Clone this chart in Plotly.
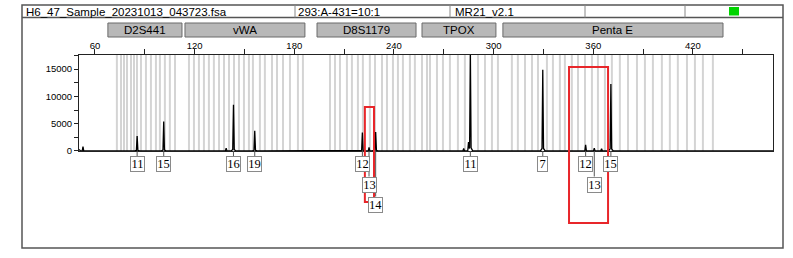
import plotly.graph_objects as go

# ---------------- data ----------------
header_texts = ["H6_47_Sample_20231013_043723.fsa", "293:A-431=10:1", "MR21_v2.1"]

loci = ["D2S441", "vWA", "D8S1179", "TPOX", "Penta E"]
locus_start = [67.8, 114.2, 193.7, 256.9, 305.6]
locus_end = [112.4, 186.4, 253.3, 301.4, 438.1]

# allele bin positions (bp)
bins = [73.2, 75.7, 77.5, 79.3, 81.7, 83.5, 85.3, 87.7, 90.7, 93.7, 96.7, 99.1, 102.1, 105.1, 108.2,
        116.6, 119.6, 122.6, 125.6, 128.6, 131.6, 134.7, 137.7, 140.7, 143.7, 146.7, 149.7, 152.7,
        155.1, 159.3, 162.3, 166.6, 169.6, 173.2, 177.4, 182.2, 185.2,
        201.5, 204.5, 207.5, 211.7, 214.7, 218.3, 221.3, 225.5, 228.6, 232.8, 235.8, 239.4, 242.4,
        245.4, 249.6, 252.6,
        256.9, 259.9, 261.7, 265.9, 269.5, 273.7, 278.5, 282.7, 290.6, 294.8, 299.0, 302.6,
        311.0, 314.6, 318.9, 323.1, 326.7, 332.1, 335.7, 339.9, 342.9, 347.1, 350.8, 355.0, 359.2,
        362.8, 367.0, 371.2, 376.0, 380.9, 386.3, 391.1, 395.9, 401.3, 406.1, 410.9, 416.4, 421.2,
        426.0, 432.0]

# trace start and peaks (bp, RFU)
trace_start_bp = 50.4
trace_start_rfu = 250
peak_bp = [52.8, 85.4, 101.4, 139.0, 143.4, 156.2, 221.0, 225.0, 229.0, 282.0, 284.9, 286.0,
           329.6, 355.4, 360.6, 365.0, 370.6]
peak_rfu = [800, 2750, 5400, 500, 8450, 3700, 3360, 650, 3450, 450, 1600, 18500,
            14900, 1100, 500, 400, 12260]

allele_names = ["11", "15", "16", "19", "12", "13", "14", "11", "7", "12", "13", "15"]
allele_bp = [85.4, 101.4, 143.4, 156.2, 221.0, 225.0, 229.0, 286.0, 329.6, 355.4, 360.6, 370.6]
allele_row = [1, 1, 1, 1, 1, 2, 3, 1, 1, 1, 2, 1]

# red highlight boxes (bp ranges)
highlight_bp = [(222.5, 228.0), (345.4, 368.9)]

x_ticks = [60, 120, 180, 240, 300, 360, 420]
y_ticks = [0, 5000, 10000, 15000]
y_tick_text = ["0", "5000", "10000", "15000"]

# ---------------- layout helpers ----------------
W, H = 793, 258
L, R, T, B = 79, 20, 55, 107
PW = W - L - R
PH = H - T - B


def px(X):
    return (X - L) / PW


def py(Y):
    return (T + PH - Y) / PH


# build polyline from peaks
CORE, FOOT, FOOTH = 0.45, 1.4, 0.03


def kernel(x, p, h):
    d = abs(x - p)
    if d <= CORE:
        return h * (1 - (d / CORE) * (1 - FOOTH))
    if d <= FOOT:
        return h * FOOTH * (1 - (d - CORE) / (FOOT - CORE))
    return 0.0


xs = set()
for p in peak_bp:
    for off in (-FOOT, -CORE, 0.0, CORE, FOOT):
        xs.add(round(p + off, 4))
xs = sorted(v for v in xs if v > trace_start_bp)
tx = [trace_start_bp]
ty = [trace_start_rfu]
for x in xs:
    tx.append(x)
    ty.append(max(kernel(x, p, h) for p, h in zip(peak_bp, peak_rfu)))
tx.append(468.2)
ty.append(0)

fig = go.Figure()

# bin lines
bx, by = [], []
for b in bins:
    bx += [b, b, None]
    by += [-100, 17700, None]
fig.add_trace(go.Scatter(x=bx, y=by, mode="lines", line=dict(color="#d4d4d4", width=2),
                         hoverinfo="skip", showlegend=False))
fig.add_trace(go.Scatter(x=tx, y=ty, mode="lines", line=dict(color="black", width=1.3),
                         hoverinfo="skip", showlegend=False))

shapes = []
annos = []

# outer frame and header
frame_col = "#555555"
shapes.append(dict(type="rect", xref="paper", yref="paper", x0=px(22), x1=px(783), y0=py(248), y1=py(5),
                   line=dict(color=frame_col, width=1.5)))
shapes.append(dict(type="line", xref="paper", yref="paper", x0=px(22), x1=px(783), y0=py(17.5), y1=py(17.5),
                   line=dict(color=frame_col, width=1.5)))
for dx in (295, 450, 585, 685):
    shapes.append(dict(type="line", xref="paper", yref="paper", x0=px(dx), x1=px(dx), y0=py(17.5), y1=py(5),
                       line=dict(color="#888888", width=1)))
shapes.append(dict(type="rect", xref="paper", yref="paper", x0=px(729), x1=px(739), y0=py(15.5), y1=py(7),
                   fillcolor="#00d400", line=dict(width=0)))
for txt, hx in zip(header_texts, (24, 296, 453)):
    annos.append(dict(text=txt, xref="paper", yref="paper", x=px(hx), y=py(11.5), xanchor="left",
                      yanchor="middle", showarrow=False,
                      font=dict(family="Liberation Sans, Arial", size=11.5, color="black")))

# locus bars
for name, s, e in zip(loci, locus_start, locus_end):
    shapes.append(dict(type="rect", xref="x", yref="paper", x0=s, x1=e, y0=py(37), y1=py(23),
                       fillcolor="#b8b8b8", line=dict(color="#6a6a6a", width=1)))
    annos.append(dict(text=name, xref="x", yref="paper", x=(s + e) / 2, y=py(30), showarrow=False,
                      xanchor="center", yanchor="middle",
                      font=dict(family="Liberation Sans, Arial", size=11.5, color="black")))

# allele labels
row_center = {1: 164, 2: 184.5, 3: 204.5}
for name, xb, row in zip(allele_names, allele_bp, allele_row):
    cy = row_center[row]
    shapes.append(dict(type="line", xref="x", yref="paper", x0=xb, x1=xb, y0=py(151), y1=py(cy - 8),
                       line=dict(color="#555555", width=1)))
    annos.append(dict(text=name, xref="x", yref="paper", x=xb, y=py(cy), showarrow=False,
                      xanchor="center", yanchor="middle", width=13 if len(name) > 1 else 9,
                      height=14, borderpad=0, borderwidth=1, bordercolor="#8a8a8a", bgcolor="white",
                      font=dict(family="Liberation Serif, Times New Roman", size=12.5, color="black")))

# red highlight boxes
for (s, e), (y0, y1) in zip(highlight_bp, [(202, 107), (223, 67)]):
    shapes.append(dict(type="rect", xref="x", yref="paper", x0=s, x1=e, y0=py(y0), y1=py(y1),
                       line=dict(color="#e8262a", width=2), layer="above"))

fig.update_layout(
    width=W, height=H, autosize=False,
    margin=dict(l=L, r=R, t=T, b=B, pad=0),
    paper_bgcolor="white", plot_bgcolor="white",
    shapes=shapes, annotations=annos, showlegend=False,
    xaxis=dict(range=[50.4, 468.2], side="top", tickmode="array", tickvals=x_ticks,
               ticks="outside", ticklen=5, tickcolor="#222", tickwidth=1, ticklabelstandoff=-4,
               minor=dict(dtick=30, tick0=60, ticks="outside", ticklen=5, tickcolor="#222", showgrid=False),
               showline=True, linecolor="#222", linewidth=1, mirror=True,
               showgrid=False, zeroline=False,
               tickfont=dict(family="Liberation Sans, Arial", size=9.5, color="black")),
    yaxis=dict(range=[-20, 17600], tickmode="array", tickvals=y_ticks, ticktext=y_tick_text,
               ticks="outside", ticklen=4, tickcolor="#222",
               minor=dict(dtick=2500, tick0=0, ticks="outside", ticklen=4, tickcolor="#222", showgrid=False),
               showline=True, linecolor="#222", linewidth=1, mirror=True,
               showgrid=False, zeroline=False,
               tickfont=dict(family="Liberation Sans, Arial", size=9.5, color="black")),
)

fig.write_html("out.html")
